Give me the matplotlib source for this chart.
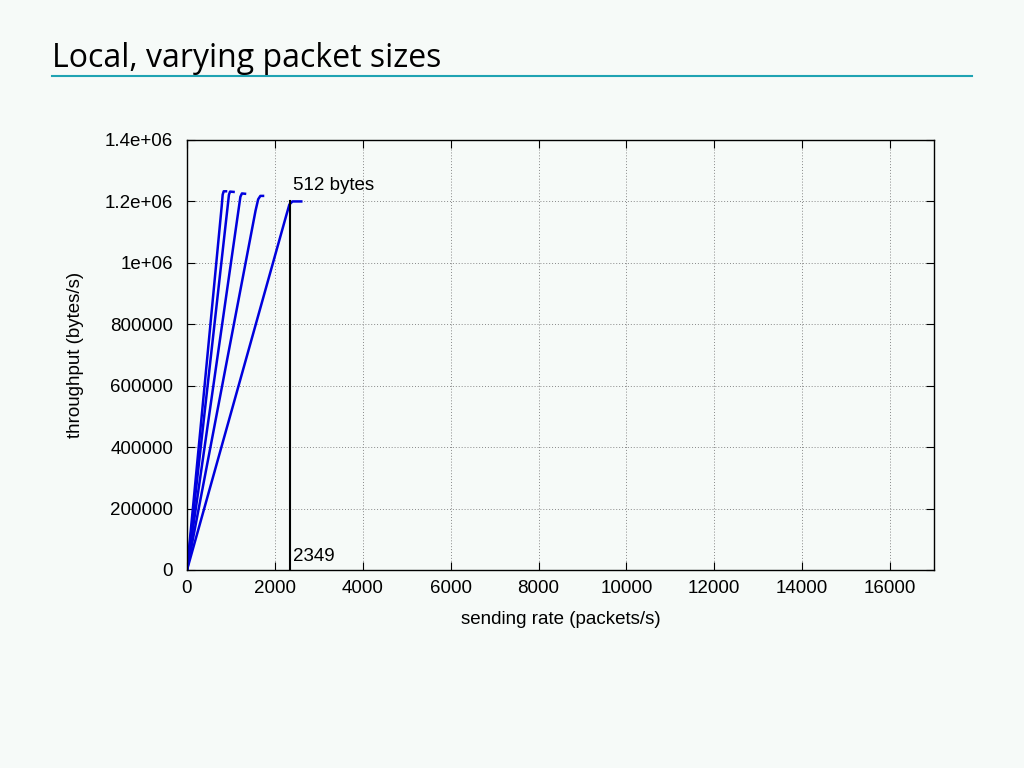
import matplotlib.pyplot as plt

# measured curves: sending rate (packets/s) vs throughput (bytes/s), one per packet size
rates = [
    [0, 790, 812, 835, 888],
    [0, 930, 955, 980, 1060],
    [0, 1180, 1215, 1250, 1320],
    [0, 1560, 1620, 1670, 1730],
    [0, 2260, 2330, 2400, 2600],
]
throughput = [
    [0, 1185000, 1222000, 1233000, 1233000],
    [0, 1190000, 1222000, 1232000, 1231000],
    [0, 1180000, 1215000, 1226000, 1225000],
    [0, 1170000, 1207000, 1218000, 1218000],
    [0, 1155000, 1190000, 1200000, 1200000],
]
knee_x = 2349
knee_y = 1200000
xticks = list(range(0, 16001, 2000))
yticks = [0, 200000, 400000, 600000, 800000, 1000000, 1200000, 1400000]
ylabels = ['0', '200000', '400000', '600000', '800000', '1e+06', '1.2e+06', '1.4e+06']

plt.rcParams['font.family'] = ['Liberation Sans', 'DejaVu Sans']
bg = '#f6faf8'
fig = plt.figure(figsize=(10.24, 7.68), dpi=100, facecolor=bg)

# slide title + underline
fig.text(52 / 1024, 1 - 67 / 768, 'Local, varying packet sizes', fontsize=23,
         family='Open Sans', color='black', ha='left', va='baseline')
fig.add_artist(plt.Line2D([52 / 1024, 972 / 1024], [1 - 75.5 / 768] * 2,
                          color='#1fa3b3', lw=1.5, transform=fig.transFigure))

ax = fig.add_axes([187 / 1024, 1 - 570 / 768, 747 / 1024, 430 / 768])
ax.set_facecolor(bg)

for r, t in zip(rates, throughput):
    ax.plot(r, t, color='#0000dd', lw=1.8)

ax.plot([knee_x, knee_x], [0, knee_y], color='black', lw=1.5)
ax.text(knee_x + 60, knee_y + 25000, '512 bytes', fontsize=13.5, ha='left', va='bottom')
ax.text(knee_x + 60, 15000, '2349', fontsize=13.5, ha='left', va='bottom')

ax.set_xlim(0, 17000)
ax.set_ylim(0, 1400000)
ax.set_xticks(xticks)
ax.set_yticks(yticks)
ax.set_yticklabels(ylabels)
ax.tick_params(direction='in', length=6, labelsize=13.5, top=True, right=True)
ax.tick_params(axis='x', pad=7)
ax.tick_params(axis='y', pad=10)
ax.grid(True, color='#888888', linestyle=(0, (1, 2)), lw=0.7)
for s in ax.spines.values():
    s.set_linewidth(1.0)

ax.set_xlabel('sending rate (packets/s)', fontsize=13.5, labelpad=10)
ax.set_ylabel('throughput (bytes/s)', fontsize=13.5, labelpad=15)

plt.savefig('out.png', dpi=100, facecolor=bg)
